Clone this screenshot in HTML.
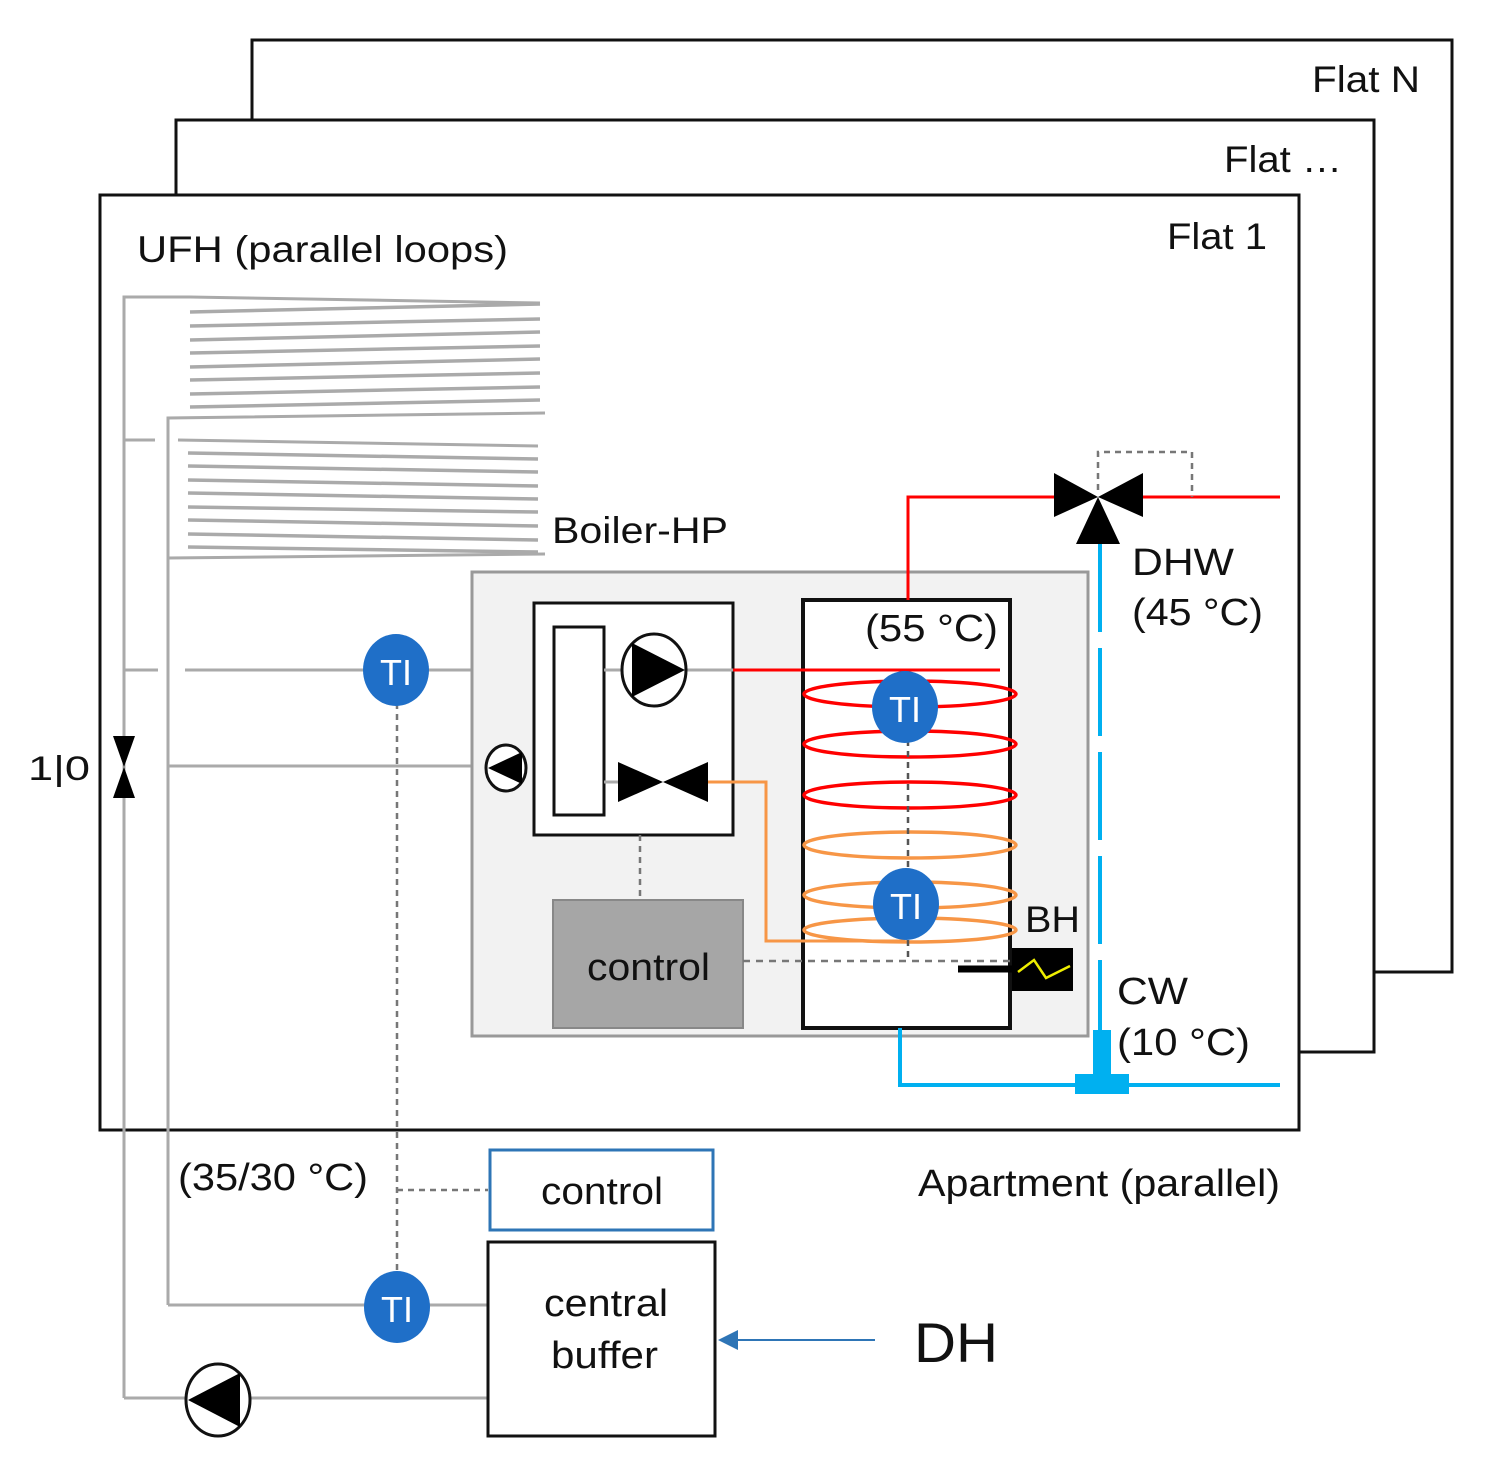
<!DOCTYPE html>
<html><head><meta charset="utf-8"><style>
html,body{margin:0;padding:0;background:#fff}
svg{display:block}
text{font-family:"Liberation Sans",Arial,sans-serif;fill:#111}
</style></head><body>
<svg width="1492" height="1473" viewBox="0 0 1492 1473" xmlns="http://www.w3.org/2000/svg">
<!-- frames -->
<rect x="252" y="40" width="1200" height="932" fill="#fff" stroke="#111" stroke-width="3"/>
<text x="1312" y="92" font-size="37" textLength="108" lengthAdjust="spacingAndGlyphs">Flat N</text>
<rect x="176" y="120" width="1198" height="932" fill="#fff" stroke="#111" stroke-width="3"/>
<text x="1224" y="172" font-size="37" textLength="118" lengthAdjust="spacingAndGlyphs">Flat …</text>
<rect x="100" y="195" width="1199" height="935" fill="#fff" stroke="#111" stroke-width="3"/>
<text x="1167" y="249" font-size="37" textLength="100" lengthAdjust="spacingAndGlyphs">Flat 1</text>
<text x="137" y="262" font-size="37" textLength="371" lengthAdjust="spacingAndGlyphs">UFH (parallel loops)</text>

<!-- gray piping -->
<g stroke="#aaa" stroke-width="3" fill="none">
<polyline points="124,1398 124,297 190,297 540,303"/>
<g stroke-width="3.5">
<line x1="190" y1="312" x2="540" y2="304"/>
<line x1="190" y1="326" x2="540" y2="319"/>
<line x1="190" y1="340" x2="540" y2="332"/>
<line x1="190" y1="353" x2="540" y2="346"/>
<line x1="190" y1="367" x2="540" y2="359"/>
<line x1="190" y1="380" x2="540" y2="373"/>
<line x1="190" y1="394" x2="540" y2="387"/>
<line x1="190" y1="407" x2="540" y2="400"/>
</g>
<polyline points="168,1305 168,418 545,413"/>
<line x1="124" y1="440" x2="155" y2="440"/>
<line x1="178" y1="440" x2="538" y2="446"/>
<g stroke-width="3.5">
<line x1="188" y1="453" x2="538" y2="459"/>
<line x1="188" y1="466" x2="538" y2="472"/>
<line x1="188" y1="480" x2="538" y2="486"/>
<line x1="188" y1="493" x2="538" y2="499"/>
<line x1="188" y1="507" x2="538" y2="512"/>
<line x1="188" y1="520" x2="538" y2="526"/>
<line x1="188" y1="534" x2="538" y2="540"/>
<line x1="188" y1="547" x2="538" y2="552"/>
</g>
<line x1="168" y1="558" x2="545" y2="554"/>
<line x1="124" y1="670" x2="158" y2="670"/>
<line x1="185" y1="670" x2="534" y2="670"/>
<line x1="168" y1="766" x2="534" y2="766"/>
<line x1="168" y1="1305" x2="488" y2="1305"/>
<line x1="124" y1="1398" x2="488" y2="1398"/>
</g>
<!-- 1|0 valve -->
<polygon points="113,736 135,736 124,767" fill="#000"/>
<polygon points="113,798 135,798 124,767" fill="#000"/>
<text x="28" y="780" font-size="34" textLength="62" lengthAdjust="spacingAndGlyphs">1|0</text>

<!-- Boiler-HP -->
<text x="552" y="543" font-size="37" textLength="176" lengthAdjust="spacingAndGlyphs">Boiler-HP</text>
<rect x="472" y="572" width="616" height="464" fill="#f2f2f2" stroke="#999" stroke-width="3"/>
<rect x="534" y="603" width="199" height="232" fill="#fff" stroke="#111" stroke-width="3"/>
<rect x="554" y="627" width="50" height="188" fill="#fff" stroke="#111" stroke-width="3"/>
<line x1="604" y1="670" x2="622" y2="670" stroke="#aaa" stroke-width="3"/>
<line x1="686" y1="670" x2="733" y2="670" stroke="#aaa" stroke-width="3"/>
<line x1="604" y1="782" x2="618" y2="782" stroke="#aaa" stroke-width="3"/>
<line x1="708" y1="782" x2="733" y2="782" stroke="#aaa" stroke-width="3"/>
<ellipse cx="654" cy="670" rx="32" ry="36" fill="#fff" stroke="#111" stroke-width="3"/>
<polygon points="632,643 632,697 685,670" fill="#000"/>
<polygon points="618,762 618,802 663,782" fill="#000"/>
<polygon points="708,762 708,802 663,782" fill="#000"/>
<!-- small pump -->
<ellipse cx="506" cy="768" rx="20" ry="23" fill="#fff" stroke="#111" stroke-width="3"/>
<polygon points="522,752 522,784 488,768" fill="#000"/>
<!-- control -->
<line x1="640" y1="835" x2="640" y2="900" stroke="#777" stroke-width="2.5" stroke-dasharray="6 5"/>
<rect x="553" y="900" width="190" height="128" fill="#a6a6a6" stroke="#888" stroke-width="2"/>
<text x="587" y="980" font-size="38" textLength="123" lengthAdjust="spacingAndGlyphs">control</text>

<!-- tank -->
<rect x="803" y="600" width="207" height="428" fill="#fff" stroke="#111" stroke-width="4"/>
<text x="865" y="641" font-size="38" textLength="133" lengthAdjust="spacingAndGlyphs">(55 °C)</text>
<line x1="733" y1="670" x2="1000" y2="670" stroke="#f00" stroke-width="3"/>
<polyline points="708,782 766,782 766,941 905,941" fill="none" stroke="#f79646" stroke-width="3"/>
<g fill="none" stroke-width="3.5">
<ellipse cx="910" cy="694" rx="106" ry="13" stroke="#f00"/>
<ellipse cx="910" cy="744" rx="106" ry="13" stroke="#f00"/>
<ellipse cx="910" cy="795" rx="106" ry="13" stroke="#f00"/>
<ellipse cx="910" cy="845" rx="106" ry="13" stroke="#f79646"/>
<ellipse cx="910" cy="895" rx="106" ry="13" stroke="#f79646"/>
<ellipse cx="910" cy="930" rx="106" ry="12" stroke="#f79646"/>
</g>
<line x1="908" y1="740" x2="908" y2="870" stroke="#555" stroke-width="2.5" stroke-dasharray="6 5"/>
<line x1="908" y1="940" x2="908" y2="961" stroke="#555" stroke-width="2.5" stroke-dasharray="6 5"/>
<line x1="743" y1="961" x2="1010" y2="961" stroke="#777" stroke-width="2.5" stroke-dasharray="7 6"/>
<g>
<ellipse cx="905" cy="707" rx="33" ry="36" fill="#1f6fc8"/>
<text x="905" y="722" font-size="36" text-anchor="middle" style="fill:#fff">TI</text>
<ellipse cx="906" cy="904" rx="33" ry="36" fill="#1f6fc8"/>
<text x="906" y="919" font-size="36" text-anchor="middle" style="fill:#fff">TI</text>
</g>
<!-- BH -->
<text x="1025" y="932" font-size="37" textLength="55" lengthAdjust="spacingAndGlyphs">BH</text>
<line x1="958" y1="969" x2="1012" y2="969" stroke="#000" stroke-width="7"/>
<rect x="1012" y="948" width="61" height="43" fill="#000"/>
<polyline points="1018,972 1034,960 1046,978 1070,966" fill="none" stroke="#ee0" stroke-width="2.5"/>

<!-- DHW -->
<polyline points="908,600 908,497 1055,497" fill="none" stroke="#f00" stroke-width="3"/>
<line x1="1143" y1="497" x2="1280" y2="497" stroke="#f00" stroke-width="3"/>
<polyline points="1098,490 1098,452 1192,452 1192,497" fill="none" stroke="#777" stroke-width="2.5" stroke-dasharray="6 5"/>
<polygon points="1054,473 1054,517 1098,497" fill="#000"/>
<polygon points="1143,473 1143,517 1098,497" fill="#000"/>
<polygon points="1098,497 1076,544 1120,544" fill="#000"/>
<line x1="1100" y1="544" x2="1100" y2="1030" stroke="#00b0f0" stroke-width="4" stroke-dasharray="88 16"/>
<text x="1132" y="575" font-size="38" textLength="102" lengthAdjust="spacingAndGlyphs">DHW</text>
<text x="1132" y="625" font-size="38" textLength="131" lengthAdjust="spacingAndGlyphs">(45 °C)</text>
<polyline points="900,1028 900,1085 1280,1085" fill="none" stroke="#00b0f0" stroke-width="4"/>
<rect x="1093" y="1030" width="18" height="46" fill="#00b0f0"/>
<rect x="1075" y="1074" width="54" height="20" fill="#00b0f0"/>
<text x="1117" y="1004" font-size="38" textLength="71" lengthAdjust="spacingAndGlyphs">CW</text>
<text x="1117" y="1055" font-size="38" textLength="133" lengthAdjust="spacingAndGlyphs">(10 °C)</text>

<!-- TI 1 -->
<line x1="397" y1="703" x2="397" y2="1272" stroke="#777" stroke-width="2.5" stroke-dasharray="6 5"/>
<ellipse cx="396" cy="670" rx="33" ry="36" fill="#1f6fc8"/>
<text x="396" y="685" font-size="36" text-anchor="middle" style="fill:#fff">TI</text>

<!-- bottom -->
<text x="178" y="1190" font-size="38" textLength="190" lengthAdjust="spacingAndGlyphs">(35/30 °C)</text>
<text x="918" y="1196" font-size="38" textLength="362" lengthAdjust="spacingAndGlyphs">Apartment (parallel)</text>
<line x1="397" y1="1190" x2="488" y2="1190" stroke="#777" stroke-width="2.5" stroke-dasharray="6 5"/>
<rect x="490" y="1150" width="223" height="80" fill="#fff" stroke="#2e75b6" stroke-width="3"/>
<text x="541" y="1204" font-size="38" textLength="122" lengthAdjust="spacingAndGlyphs">control</text>
<rect x="488" y="1242" width="227" height="194" fill="#fff" stroke="#111" stroke-width="3"/>
<text x="544" y="1316" font-size="38" textLength="124" lengthAdjust="spacingAndGlyphs">central</text>
<text x="551" y="1368" font-size="38" textLength="107" lengthAdjust="spacingAndGlyphs">buffer</text>
<ellipse cx="397" cy="1307" rx="33" ry="36" fill="#1f6fc8"/>
<text x="397" y="1322" font-size="36" text-anchor="middle" style="fill:#fff">TI</text>
<ellipse cx="218" cy="1400" rx="32" ry="36" fill="#fff" stroke="#111" stroke-width="3"/>
<polygon points="240,1373 240,1427 188,1400" fill="#000"/>
<line x1="735" y1="1340" x2="875" y2="1340" stroke="#2e75b6" stroke-width="2"/>
<polygon points="718,1340 738,1330 738,1350" fill="#2e75b6"/>
<text x="914" y="1362" font-size="56" textLength="84" lengthAdjust="spacingAndGlyphs">DH</text>
</svg>
</body></html>
